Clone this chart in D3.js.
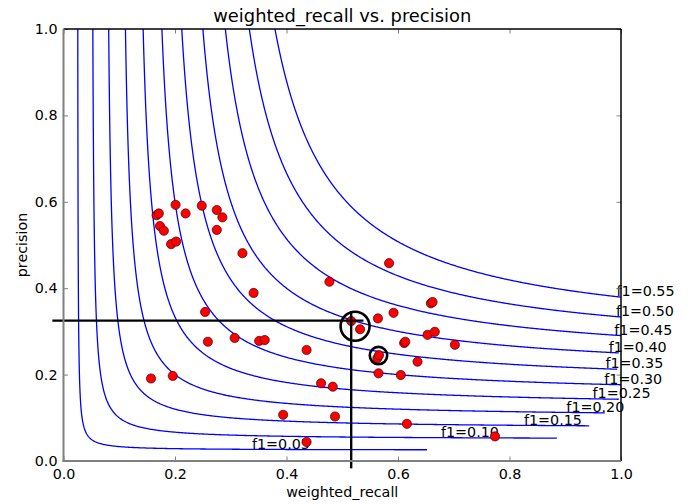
<!DOCTYPE html>
<html>
<head>
<meta charset="utf-8">
<script src="https://cdn.jsdelivr.net/npm/d3@7"></script>
<style>
  body { margin: 0; background: #fff; }
  text { font-family: "DejaVu Sans", sans-serif; fill: #000; }
</style>
</head>
<body>
<div id="grafico"></div>
<script>
// niveles f1 de las curvas
const f1Niveles = [0.05, 0.10, 0.15, 0.20, 0.25, 0.30, 0.35, 0.40, 0.45, 0.50, 0.55];
// recall donde termina cada curva
const finCurva = [0.652, 0.885, 0.943, 0.971, 0.996, 1.0, 0.993, 0.996, 1.0, 1.0, 1.0];
// recall donde empieza cada etiqueta
const xEtiqueta = [0.338, 0.677, 0.826, 0.902, 0.949, 0.970, 0.972, 0.978, 0.988, 0.991, 0.992];

// puntos: weighted_recall y precision
const recall = [0.201, 0.167, 0.171, 0.219, 0.248, 0.275, 0.285, 0.173, 0.180, 0.275,
  0.193, 0.202, 0.321, 0.341, 0.254, 0.259, 0.307, 0.351, 0.361, 0.157,
  0.196, 0.584, 0.477, 0.659, 0.662, 0.592, 0.564, 0.516, 0.532, 0.611,
  0.613, 0.653, 0.666, 0.702, 0.436, 0.563, 0.566, 0.635, 0.565, 0.605,
  0.462, 0.483, 0.394, 0.487, 0.616, 0.774, 0.436];
const precision = [0.593, 0.569, 0.573, 0.573, 0.591, 0.581, 0.564, 0.544, 0.533, 0.535,
  0.502, 0.508, 0.481, 0.389, 0.345, 0.276, 0.285, 0.278, 0.280, 0.191,
  0.197, 0.458, 0.415, 0.365, 0.368, 0.343, 0.330, 0.324, 0.305, 0.273,
  0.276, 0.292, 0.299, 0.269, 0.257, 0.238, 0.245, 0.230, 0.203, 0.199,
  0.180, 0.172, 0.107, 0.103, 0.086, 0.057, 0.044];

// marcas resaltadas
const cruz = { recall: 0.516, precision: 0.325 };
const circulos = [
  { recall: 0.523, precision: 0.312, radio: 14.5 },
  { recall: 0.565, precision: 0.244, radio: 8.7 }
];

const ticks = [0, 0.2, 0.4, 0.6, 0.8, 1.0];

const svgWidth = 691, svgHeight = 504;
const margin = { top: 29, right: 70, bottom: 43, left: 63.5 };
const width = svgWidth - margin.left - margin.right;
const height = svgHeight - margin.top - margin.bottom;

const svgRoot = d3.select("#grafico")
  .append("svg")
  .attr("width", svgWidth)
  .attr("height", svgHeight);

const svg = svgRoot.append("g")
  .attr("transform", `translate(${margin.left}, ${margin.top})`);

const x = d3.scaleLinear().domain([0, 1]).range([0, width]);
const y = d3.scaleLinear().domain([0, 1]).range([height, 0]);

svg.append("clipPath").attr("id", "recorte")
  .append("rect").attr("width", width).attr("height", height);

// curvas iso-f1
function puntosCurva(f, rFin) {
  const rIni = f / (2 - f);
  const pFin = f * rFin / (2 * rFin - f);
  const pts = [];
  d3.range(0, 401).forEach(i => {
    const r = rIni + (rFin - rIni) * i / 400;
    pts.push([r, f * r / (2 * r - f)]);
    const p = pFin + (1 - pFin) * i / 400;
    pts.push([f * p / (2 * p - f), p]);
  });
  return pts.sort((a, b) => a[0] - b[0]);
}

const linea = d3.line().x(d => x(d[0])).y(d => y(d[1]));

svg.append("g").attr("clip-path", "url(#recorte)")
  .selectAll(".curva")
  .data(f1Niveles)
  .enter().append("path")
  .attr("class", "curva")
  .attr("d", (f, i) => linea(puntosCurva(f, finCurva[i])))
  .attr("fill", "none")
  .attr("stroke", "#0000ff")
  .attr("stroke-width", 1.3);

// etiquetas de las curvas
svg.selectAll(".etiqueta")
  .data(f1Niveles)
  .enter().append("text")
  .attr("class", "etiqueta")
  .attr("x", (f, i) => x(xEtiqueta[i]))
  .attr("y", (f, i) => y(f * finCurva[i] / (2 * finCurva[i] - f)) - 1)
  .style("font-size", "14.3px")
  .text(f => "f1=" + f.toFixed(2));

// puntos
svg.selectAll(".punto")
  .data(recall)
  .enter().append("circle")
  .attr("class", "punto")
  .attr("cx", d => x(d))
  .attr("cy", (d, i) => y(precision[i]))
  .attr("r", 4.6)
  .attr("fill", "#ff0000")
  .attr("stroke", "#400000")
  .attr("stroke-width", 0.7);

// cruz
svg.append("line")
  .attr("x1", x(-0.02)).attr("x2", x(cruz.recall + 0.022))
  .attr("y1", y(cruz.precision)).attr("y2", y(cruz.precision))
  .attr("stroke", "#000").attr("stroke-width", 2.4);
svg.append("line")
  .attr("x1", x(cruz.recall)).attr("x2", x(cruz.recall))
  .attr("y1", y(cruz.precision + 0.022)).attr("y2", y(-0.017))
  .attr("stroke", "#000").attr("stroke-width", 2.4);

svg.selectAll(".circulo")
  .data(circulos)
  .enter().append("circle")
  .attr("class", "circulo")
  .attr("cx", d => x(d.recall))
  .attr("cy", d => y(d.precision))
  .attr("r", d => d.radio)
  .attr("fill", "none")
  .attr("stroke", "#000")
  .attr("stroke-width", 2.6);

// ejes (ticks hacia dentro)
const ejeX = svg.append("g")
  .attr("transform", `translate(0, ${height})`)
  .call(d3.axisBottom(x).tickValues(ticks).tickFormat(d3.format(".1f")).tickSize(-4.5).tickPadding(8));
const ejeY = svg.append("g")
  .call(d3.axisLeft(y).tickValues(ticks).tickFormat(d3.format(".1f")).tickSize(-4.5).tickPadding(6));
const ejeSup = svg.append("g")
  .call(d3.axisTop(x).tickValues(ticks).tickFormat("").tickSize(-4.5));
const ejeDer = svg.append("g")
  .attr("transform", `translate(${width}, 0)`)
  .call(d3.axisRight(y).tickValues(ticks).tickFormat("").tickSize(-4.5));

[ejeX, ejeY, ejeSup, ejeDer].forEach(g => {
  g.selectAll(".tick line").attr("stroke", "#808080").attr("stroke-width", 1);
  g.selectAll(".tick text").style("font-size", "14.3px").style("font-family", "DejaVu Sans");
  g.select(".domain").remove();
});
ejeX.selectAll(".tick text").attr("dy", "0.71em");

// marco
svg.append("line").attr("x1", 0).attr("x2", width).attr("y1", 0).attr("y2", 0)
  .attr("stroke", "#000").attr("stroke-width", 1.5);
svg.append("line").attr("x1", width).attr("x2", width).attr("y1", 0).attr("y2", height)
  .attr("stroke", "#000").attr("stroke-width", 1.5);
svg.append("line").attr("x1", -1).attr("x2", width).attr("y1", height).attr("y2", height)
  .attr("stroke", "#808080").attr("stroke-width", 2);
svg.append("line").attr("x1", 0).attr("x2", 0).attr("y1", 0).attr("y2", height + 1)
  .attr("stroke", "#808080").attr("stroke-width", 2);

// titulo y etiquetas
svg.append("text")
  .attr("x", width / 2)
  .attr("y", -7)
  .attr("text-anchor", "middle")
  .style("font-size", "17.9px")
  .text("weighted_recall vs. precision");

svg.append("text")
  .attr("x", width / 2)
  .attr("y", height + 36)
  .attr("text-anchor", "middle")
  .style("font-size", "14.3px")
  .text("weighted_recall");

svg.append("text")
  .attr("x", -height / 2)
  .attr("y", -37)
  .attr("transform", "rotate(-90)")
  .attr("text-anchor", "middle")
  .style("font-size", "14.3px")
  .text("precision");
</script>
</body>
</html>
